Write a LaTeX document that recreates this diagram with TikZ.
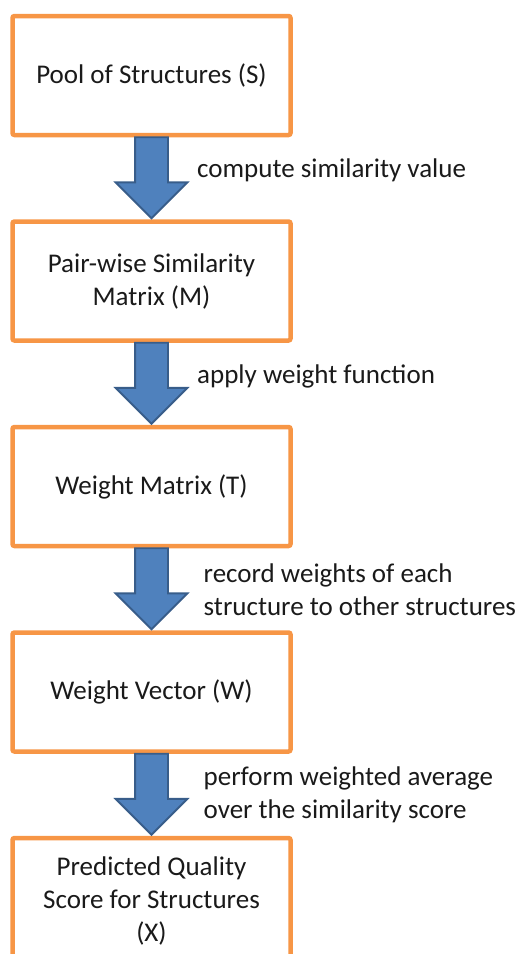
\documentclass[tikz,border=0pt]{standalone}
\usepackage{fontspec}
\setmainfont{Carlito}
\usetikzlibrary{positioning,calc,shapes.arrows}
\definecolor{boxBorder}{HTML}{F79646}
\definecolor{arrowFill}{HTML}{4F81BD}
\definecolor{arrowBorder}{HTML}{385D8A}
\definecolor{textDark}{HTML}{1A1A1A}

\begin{document}
\begin{tikzpicture}[
  x=1pt,y=-1pt,
  node distance=82pt,
  every node/.style={font=\fontsize{27pt}{33pt}\selectfont,text=textDark},
  box/.style={draw=boxBorder,line width=4.5pt,fill=white,rounded corners=2pt,
    minimum width=278pt,minimum height=119pt,align=center,inner sep=0pt},
  flow/.style={single arrow,draw=arrowBorder,fill=arrowFill,line width=1.8pt,
    rotate=-90,anchor=tail,minimum height=81pt,inner xsep=0pt,inner ysep=15.5pt,
    single arrow head extend=19.5pt,outer sep=0pt},
  lbl/.style={anchor=west,align=left,inner sep=0pt}
]
  \useasboundingbox (0,0) rectangle (524,954);

  % --- the five stages ---
  \node[box] (pool) at (151.5,75.5) {Pool of Structures (S)};
  \node[box,below=of pool] (sim) {Pair-wise Similarity\\Matrix (M)};
  \node[box,below=of sim] (wmat) {Weight Matrix (T)};
  \node[box,below=of wmat] (wvec) {Weight Vector (W)};
  \node[box,below=of wvec,minimum height=125pt] (pred)
    {Predicted Quality\\Score for Structures\\(X)};

  % --- block arrows ---
  \node[flow] (a1) at (pool.south) {};
  \node[flow] (a2) at (sim.south) {};
  \node[flow] (a3) at (wmat.south) {};
  \node[flow] (a4) at (wvec.south) {};

  % labels
  \node[lbl] (l1) at ($(pool.south)!0.5!(sim.north)+(45.5,-8)$) {compute similarity value};
  \node[lbl] (l2) at ($(sim.south)!0.5!(wmat.north)+(45.5,-7)$) {apply weight function};
  \node[lbl] (l3) at ($(wmat.south)!0.5!(wvec.north)+(52,0)$)
    {record weights of each\\structure to other structures};
  \node[lbl] (l4) at ($(wvec.south)!0.5!(pred.north)+(52,0)$)
    {perform weighted average\\over the similarity score};

\end{tikzpicture}
\end{document}
